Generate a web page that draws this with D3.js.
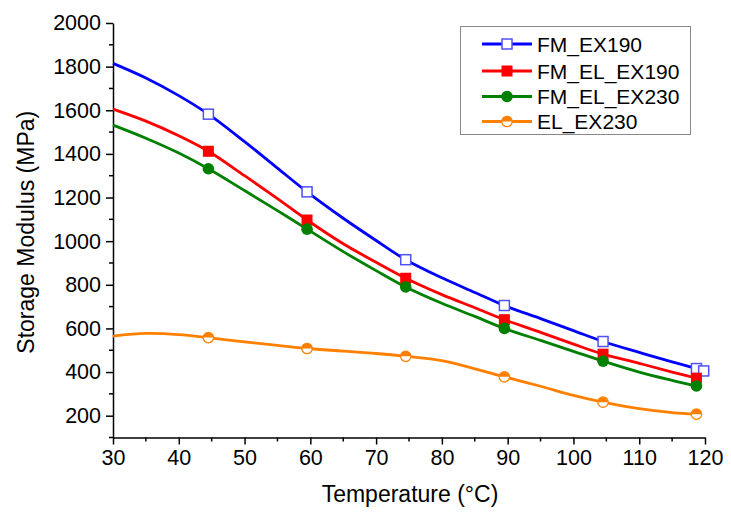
<!DOCTYPE html>
<html>
<head>
<meta charset="utf-8">
<script src="https://cdn.jsdelivr.net/npm/d3@7"></script>
<style>
  html, body { margin: 0; padding: 0; background: #fff; }
  svg text { font-family: "Liberation Sans", Arial, sans-serif; fill: #000; }
</style>
</head>
<body>
<svg id="chart" width="731" height="516"></svg>
<script>
// ---- data ----
const seriesNames = ["FM_EX190", "FM_EL_EX190", "FM_EL_EX230", "EL_EX230"];
const seriesColors = ["#0000ff", "#ff0000", "#008000", "#ff8000"];

const tempFM_EX190 = [30, 35, 40, 44.5, 50, 55, 59.5, 65, 70, 74.5, 80, 85, 89.5, 95, 100, 104.5, 110, 115, 118.7];
const modFM_EX190  = [1815, 1748, 1667, 1582, 1456, 1335, 1226, 1105, 1003, 915, 832, 765, 705, 645, 590, 540, 490, 447, 416];

const tempFM_EL_EX190 = [30, 35, 40, 44.5, 50, 55, 59.5, 65, 70, 74.5, 80, 85, 89.5, 95, 100, 104.5, 110, 115, 118.7];
const modFM_EL_EX190  = [1605, 1550, 1483, 1412, 1300, 1195, 1097, 988, 903, 830, 755, 695, 640, 582, 528, 482, 440, 400, 372];

const tempFM_EL_EX230 = [30, 35, 40, 44.5, 50, 55, 59.5, 65, 70, 74.5, 80, 85, 89.5, 95, 100, 104.5, 110, 115, 118.7];
const modFM_EL_EX230  = [1532, 1472, 1404, 1332, 1232, 1140, 1055, 952, 865, 790, 715, 655, 600, 545, 495, 450, 400, 362, 336];

const tempEL_EX230 = [30, 35, 40, 44.5, 50, 55, 59.5, 65, 70, 74.5, 80, 85, 89.5, 95, 100, 104.5, 110, 115, 118.7];
const modEL_EX230  = [565, 577, 572, 558, 538, 522, 508, 496, 485, 472, 452, 415, 378, 335, 293, 262, 232, 214, 207];

// marker positions
const markTempFM_EX190 = [44.5, 59.5, 74.5, 89.5, 104.5, 118.7, 119.8];
const markModFM_EX190  = [1582, 1226, 915, 705, 540, 416, 405];
const markTemp = [44.5, 59.5, 74.5, 89.5, 104.5, 118.7];
const markModFM_EL_EX190 = [1412, 1097, 830, 640, 482, 372];
const markModFM_EL_EX230 = [1332, 1055, 790, 600, 450, 336];
const markModEL_EX230    = [558, 508, 472, 378, 262, 207];

const xTicks = [30, 40, 50, 60, 70, 80, 90, 100, 110, 120];
const yTicks = [200, 400, 600, 800, 1000, 1200, 1400, 1600, 1800, 2000];
const xTitle = "Temperature (°C)";
const yTitle = "Storage Modulus (MPa)";

// ---- layout ----
const svg = d3.select("#chart");
const L = 113, R = 705, T = 23, B = 437.5;
const x = d3.scaleLinear().domain([30, 120]).range([L, R]);
const y = d3.scaleLinear().domain([100, 2000]).range([B, T]);

// axes
const xAxis = d3.axisBottom(x).tickValues(xTicks).tickFormat(d3.format("d")).tickSize(7).tickPadding(5).tickSizeOuter(0);
const yAxis = d3.axisLeft(y).tickValues(yTicks).tickFormat(d3.format("d")).tickSize(7).tickPadding(5).tickSizeOuter(0);

const gx = svg.append("g").attr("transform", `translate(0,${B})`).call(xAxis);
const gy = svg.append("g").attr("transform", `translate(${L},0)`).call(yAxis);
[gx, gy].forEach(g => {
  g.select(".domain").attr("stroke", "#000").attr("stroke-width", 1.5);
  g.selectAll(".tick line").attr("stroke", "#000").attr("stroke-width", 1.5);
  g.selectAll(".tick text").style("font-size", "21.5px").style("font-family", "Liberation Sans, Arial, sans-serif");
});
// minor ticks
const xMinor = d3.range(35, 120, 10);
gx.selectAll(".minor").data(xMinor).enter().append("line")
  .attr("x1", d => x(d)).attr("x2", d => x(d)).attr("y1", 0).attr("y2", 4)
  .attr("stroke", "#000").attr("stroke-width", 1.5);
const yMinor = d3.range(100, 2000, 200);
gy.selectAll(".minor").data(yMinor).enter().append("line")
  .attr("y1", d => y(d)).attr("y2", d => y(d)).attr("x1", 0).attr("x2", -4)
  .attr("stroke", "#000").attr("stroke-width", 1.5);

// titles
svg.append("text").attr("x", (L + R) / 2 + 1).attr("y", 502).attr("text-anchor", "middle")
  .style("font-size", "23px").text(xTitle);
svg.append("text").attr("transform", `translate(34,${(T + B) / 2 + 2}) rotate(-90)`)
  .attr("text-anchor", "middle").style("font-size", "23px").text(yTitle);

// lines
const line = d3.line().x(d => x(d[0])).y(d => y(d[1])).curve(d3.curveCatmullRom.alpha(0.5));
const curves = [
  d3.zip(tempFM_EX190, modFM_EX190),
  d3.zip(tempFM_EL_EX190, modFM_EL_EX190),
  d3.zip(tempFM_EL_EX230, modFM_EL_EX230),
  d3.zip(tempEL_EX230, modEL_EX230)
];
curves.forEach((c, i) => {
  svg.append("path").datum(c).attr("d", line).attr("fill", "none")
    .attr("stroke", seriesColors[i]).attr("stroke-width", 2.8);
});

// markers
function drawMarker(g, kind, cx, cy, col) {
  if (kind === 0) {
    g.append("rect").attr("x", cx - 5).attr("y", cy - 5).attr("width", 10).attr("height", 10)
      .attr("fill", "#fff").attr("stroke", "#5050ff").attr("stroke-width", 1.5);
  } else if (kind === 1) {
    g.append("rect").attr("x", cx - 5.5).attr("y", cy - 5.5).attr("width", 11).attr("height", 11)
      .attr("fill", col);
  } else if (kind === 2) {
    g.append("circle").attr("cx", cx).attr("cy", cy).attr("r", 5.8).attr("fill", col);
  } else {
    const r = 5.2;
    g.append("circle").attr("cx", cx).attr("cy", cy).attr("r", r).attr("fill", "#fff")
      .attr("stroke", col).attr("stroke-width", 1.3);
    g.append("path").attr("d", `M${cx - r},${cy} A${r},${r} 0 0 1 ${cx + r},${cy} Z`).attr("fill", col);
  }
}
const markerSets = [
  d3.zip(markTempFM_EX190, markModFM_EX190),
  d3.zip(markTemp, markModFM_EL_EX190),
  d3.zip(markTemp, markModFM_EL_EX230),
  d3.zip(markTemp, markModEL_EX230)
];
const gm = svg.append("g");
markerSets.forEach((set, i) => {
  set.forEach(d => drawMarker(gm, i, x(d[0]), y(d[1]), seriesColors[i]));
});

// legend
const lg = svg.append("g");
lg.append("rect").attr("x", 460.5).attr("y", 26.5).attr("width", 230).attr("height", 108)
  .attr("fill", "#fff").attr("stroke", "#888").attr("stroke-width", 1);
const legY = [44, 71, 96.5, 121.5];
seriesNames.forEach((name, i) => {
  lg.append("line").attr("x1", 482).attr("x2", 532).attr("y1", legY[i]).attr("y2", legY[i])
    .attr("stroke", seriesColors[i]).attr("stroke-width", 2.8);
  drawMarker(lg, i, 507, legY[i], seriesColors[i]);
  lg.append("text").attr("x", 537).attr("y", legY[i]).attr("dy", "0.36em")
    .style("font-size", "21px").text(name);
});
</script>
</body>
</html>
